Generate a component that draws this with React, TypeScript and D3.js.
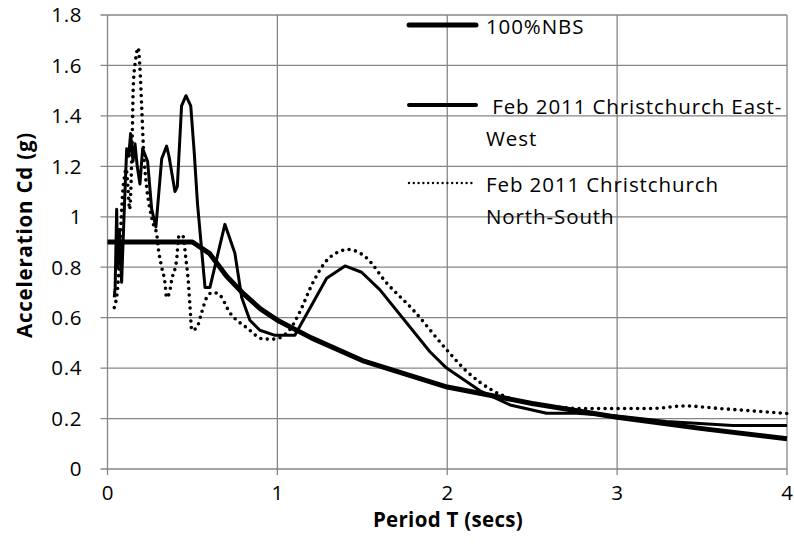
import React, { useEffect, useRef } from 'react';
import * as d3 from 'd3';

// period (s) and spectral acceleration (g)
const periodTicks = [0, 1, 2, 3, 4];
const accelTicks = [0, 0.2, 0.4, 0.6, 0.8, 1, 1.2, 1.4, 1.6, 1.8];

const nbsT = [0, 0.5, 0.6, 0.7, 0.8, 0.9, 1.0, 1.2, 1.5, 2.0, 2.5, 3.0, 3.5, 4.0];
const nbsA = [0.9, 0.9, 0.855, 0.765, 0.695, 0.635, 0.59, 0.52, 0.43, 0.325, 0.26, 0.205, 0.16, 0.12];

const ewT = [0.04, 0.045, 0.054, 0.06, 0.07, 0.083, 0.1, 0.113, 0.125, 0.136, 0.15, 0.162, 0.175, 0.191,
  0.207, 0.236, 0.26, 0.285, 0.319, 0.348, 0.362, 0.397, 0.411, 0.436, 0.462, 0.49, 0.51, 0.53, 0.574,
  0.603, 0.691, 0.75, 0.79, 0.838, 0.897, 0.986, 1.103, 1.29, 1.398, 1.496, 1.604, 1.898, 1.996, 2.193,
  2.37, 2.585, 2.76, 3.0, 3.29, 3.68, 4.0];
const ewA = [0.68, 0.72, 1.03, 0.8, 0.95, 0.74, 1.05, 1.27, 1.24, 1.33, 1.22, 1.29, 1.2, 1.13,
  1.27, 1.22, 1.03, 0.96, 1.23, 1.28, 1.24, 1.1, 1.12, 1.44, 1.48, 1.44, 1.26, 1.05, 0.72,
  0.72, 0.97, 0.855, 0.68, 0.59, 0.55, 0.53, 0.53, 0.756, 0.805, 0.78, 0.71, 0.465, 0.4, 0.31,
  0.254, 0.221, 0.221, 0.21, 0.188, 0.172, 0.172];

const nsT = [0.04, 0.048, 0.06, 0.068, 0.08, 0.09, 0.1, 0.11, 0.12, 0.13, 0.137, 0.145, 0.152, 0.165,
  0.181, 0.19, 0.201, 0.211, 0.23, 0.25, 0.27, 0.29, 0.3, 0.319, 0.338, 0.348, 0.365, 0.378, 0.407,
  0.421, 0.443, 0.462, 0.476, 0.486, 0.496, 0.525, 0.554, 0.584, 0.62, 0.66, 0.72, 0.82, 0.92, 0.98,
  1.07, 1.13, 1.21, 1.31, 1.42, 1.52, 1.64, 1.8, 2.0, 2.11, 2.27, 2.5, 2.8, 3.0, 3.2, 3.4, 3.6, 3.8, 4.0];
const nsA = [0.64, 0.66, 0.72, 0.8, 0.98, 1.1, 1.16, 1.19, 1.12, 1.03, 1.1, 1.3, 1.52, 1.62,
  1.67, 1.6, 1.44, 1.28, 1.12, 1.03, 0.97, 0.93, 0.87, 0.8, 0.74, 0.68, 0.7, 0.75, 0.83,
  0.925, 0.925, 0.83, 0.74, 0.64, 0.55, 0.56, 0.62, 0.68, 0.7, 0.69, 0.62, 0.56, 0.515, 0.515,
  0.55, 0.62, 0.74, 0.84, 0.87, 0.84, 0.74, 0.63, 0.47, 0.39, 0.31, 0.26, 0.24, 0.24, 0.24, 0.25, 0.24, 0.23, 0.22];

const legendNames = [['100%NBS'], [' Feb 2011 Christchurch East-', 'West'], ['Feb 2011 Christchurch', 'North-South']];

const width = 794;
const height = 552;
const font = '"Open Sans", Lato, sans-serif';
const gridColor = '#868686';

function SpectrumChart() {
  const ref = useRef<SVGSVGElement>(null);

  useEffect(() => {
    const svg = d3.select(ref.current);
    svg.selectAll('*').remove();

    const x = d3.scaleLinear().domain([0, 4]).range([107.5, 787]);
    const y = d3.scaleLinear().domain([0, 1.8]).range([469, 15]);

    const grid = svg.append('g');
    grid.selectAll('.hgrid').data(accelTicks).join('line')
      .attr('x1', x(0) - 7).attr('x2', x(4))
      .attr('y1', d => y(d)).attr('y2', d => y(d))
      .attr('stroke', gridColor).attr('stroke-width', 1.3);
    grid.selectAll('.vgrid').data(periodTicks).join('line')
      .attr('x1', d => x(d)).attr('x2', d => x(d))
      .attr('y1', y(1.8)).attr('y2', y(0) + 6)
      .attr('stroke', gridColor).attr('stroke-width', 1.3);

    svg.append('g').selectAll('text').data(accelTicks).join('text')
      .attr('x', 82).attr('y', d => y(d))
      .attr('dy', '0.36em')
      .attr('text-anchor', 'end')
      .style('font-family', font).style('font-size', '20.5px').style('letter-spacing', '0.6px')
      .attr('fill', '#000')
      .text(d => String(d));

    svg.append('g').selectAll('text').data(periodTicks).join('text')
      .attr('x', d => x(d)).attr('y', 500)
      .attr('text-anchor', 'middle')
      .style('font-family', font).style('font-size', '20.5px').attr('fill', '#000')
      .text(d => String(d));

    svg.append('text')
      .attr('x', 448).attr('y', 527)
      .attr('text-anchor', 'middle')
      .style('font-family', font).style('font-size', '20.5px').style('font-weight', 700)
      .style('letter-spacing', '0.3px')
      .text('Period T (secs)');

    svg.append('text')
      .attr('transform', 'translate(32,235) rotate(-90)')
      .attr('text-anchor', 'middle')
      .style('font-family', font).style('font-size', '20.5px').style('font-weight', 700)
      .style('letter-spacing', '0.8px')
      .text('Acceleration Cd (g)');

    const line = (ts: number[], as: number[], curve: d3.CurveFactory) =>
      d3.line<number>().x(d => x(d)).y((d, i) => y(as[i])).curve(curve)(ts);

    const plot = svg.append('g');
    plot.append('path')
      .attr('d', line(nsT, nsA, d3.curveMonotoneX))
      .attr('fill', 'none').attr('stroke', '#000').attr('stroke-width', 3.6)
      .attr('stroke-linecap', 'round').attr('stroke-dasharray', '0 6.5');
    plot.append('path')
      .attr('d', line(ewT, ewA, d3.curveLinear))
      .attr('fill', 'none').attr('stroke', '#000').attr('stroke-width', 3)
      .attr('stroke-linejoin', 'round');
    plot.append('path')
      .attr('d', line(nbsT, nbsA, d3.curveLinear))
      .attr('fill', 'none').attr('stroke', '#000').attr('stroke-width', 5)
      .attr('stroke-linejoin', 'round');

    // legend
    const legendY = [25, 105, 183];
    const textY = [27, 107, 185];
    const styles = [
      { w: 5, dash: null },
      { w: 4, dash: null },
      { w: 2.4, dash: '0 4.8' },
    ];
    const legend = svg.append('g');
    legendNames.forEach((lines, i) => {
      const l = legend.append('line')
        .attr('x1', 409).attr('x2', 476)
        .attr('y1', legendY[i]).attr('y2', legendY[i])
        .attr('stroke', '#000').attr('stroke-width', styles[i].w)
        .attr('stroke-linecap', 'round');
      if (styles[i].dash) l.attr('stroke-dasharray', styles[i].dash);
      const t = legend.append('text')
        .attr('x', 486).attr('y', textY[i])
        .style('font-family', font).style('font-size', '20.5px')
        .style('letter-spacing', '0.9px')
        .style('white-space', 'pre');
      lines.forEach((s, j) => {
        t.append('tspan').attr('x', 486).attr('y', textY[i] + j * 32)
          .attr('dy', '0.36em').text(s);
      });
    });
  }, []);

  return <svg ref={ref} width={width} height={height}
    style={{ position: 'absolute', left: 0, top: 0, background: '#fff' }} />;
}

export default function App() {
  return <SpectrumChart />;
}
